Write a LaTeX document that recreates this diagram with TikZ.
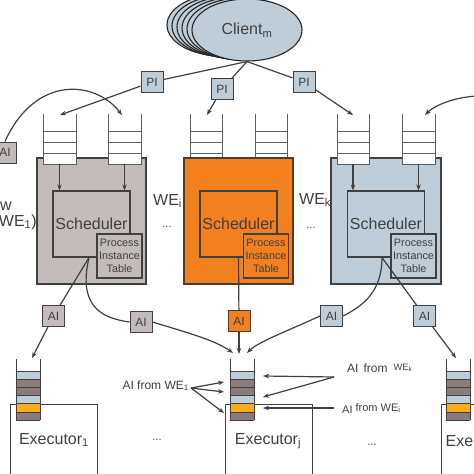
\documentclass[tikz,border=0pt]{standalone}
\usepackage{fontspec}
\setmainfont{Liberation Sans}
\usetikzlibrary{shapes.geometric}
\usetikzlibrary{arrows.meta}

\definecolor{wegray}{RGB}{196,188,186}
\definecolor{weorange}{RGB}{242,128,30}
\definecolor{weblue}{RGB}{190,205,215}
\definecolor{cellbrown}{RGB}{138,124,122}
\definecolor{cellorange}{RGB}{250,172,28}
\definecolor{dline}{RGB}{64,64,64}

\tikzset{
  wire/.style={draw=dline, line width=1.2pt},
  arr/.style={wire, -{Stealth[length=6pt,width=4.5pt]}},
  webox/.style={draw=dline, line width=1.1pt, minimum width=109pt,
    minimum height=126pt, inner sep=0pt},
  schedbox/.style={draw=dline, line width=1.1pt, minimum width=77pt,
    minimum height=66pt, inner sep=0pt, text=dline,
    font=\fontsize{16}{19}\selectfont},
  pitbox/.style={draw=dline, line width=1.1pt, minimum width=45pt,
    minimum height=44pt, inner sep=0pt, align=center, text=dline,
    font=\fontsize{10.8}{13}\selectfont},
  msgbox/.style={draw=dline, line width=1pt, minimum width=22pt,
    minimum height=21pt, inner sep=0pt, text=dline,
    font=\fontsize{12}{14}\selectfont},
  client/.style={ellipse, draw=black!85, line width=1.1pt, fill=weblue,
    minimum width=110pt, minimum height=62pt, inner sep=0pt, text=dline,
    font=\fontsize{16}{19}\selectfont},
  execbox/.style={draw=dline, line width=1pt, minimum width=87pt,
    minimum height=72pt, inner sep=0pt},
  exectext/.style={text=dline, inner sep=0pt, font=\fontsize{16}{19}\selectfont},
  lbl/.style={text=dline, inner sep=0pt, font=\fontsize{16}{19}\selectfont},
  dotlbl/.style={text=dline, inner sep=0pt, font=\fontsize{11}{13}\selectfont},
  note/.style={text=dline, inner sep=0pt, font=\fontsize{12}{14}\selectfont},
  ladder/.style={draw=dline!85, line width=1pt, fill=white},
  cellline/.style={draw=dline, line width=1pt},
}

\begin{document}
\begin{tikzpicture}[x=1pt,y=-1pt]
\useasboundingbox (0,0) rectangle (474,474);
\clip (0,0) rectangle (474,474);

% clients
\node[client] (client5) at (222,25) {};
\node[client] (client4) at (227,26) {};
\node[client] (client3) at (232,27) {};
\node[client] (client2) at (237,28) {};
\node[client] (client1) at (242,29) {};
\node[client] (client) at (247,30) {Client\textsubscript{m}};

% queues of WE_i (behind the box)
\draw[ladder] (190,114) -- (190,164) (222,114) -- (222,164)
  (190,131) -- (222,131) (190,142) -- (222,142) (190,153) -- (222,153);
\draw[ladder] (255,114) -- (255,164) (287,114) -- (287,164)
  (255,131) -- (287,131) (255,142) -- (287,142) (255,153) -- (287,153);

% workflow engines
\node[webox, fill=wegray] (we1) at (91.5,221) {};
\node[webox, fill=weorange] (wei) at (238.5,221) {};
\node[webox, fill=weblue, minimum width=110pt] (wek) at (386,221) {};

\node[schedbox] (sch1) at (91.5,224) {Scheduler};
\node[pitbox, fill=wegray] (pit1) at (119.5,256) {Process\\Instance\\Table};
\node[schedbox] (schi) at (238.5,224) {Scheduler};
\node[pitbox, fill=weorange] (piti) at (266,256) {Process\\Instance\\Table};
\node[schedbox] (schk) at (386,224) {Scheduler};
\node[pitbox, fill=weblue] (pitk) at (413.5,256) {Process\\Instance\\Table};

% queues of WE_1 and WE_k
\filldraw[ladder] (43,114) |- (76,164) -- (76,114)
  (43,131) -- (76,131) (43,142) -- (76,142) (43,153) -- (76,153);
\filldraw[ladder] (108,114) |- (141,164) -- (141,114)
  (108,131) -- (141,131) (108,142) -- (141,142) (108,153) -- (141,153);
\filldraw[ladder] (337,114) |- (369,164) -- (369,114)
  (337,131) -- (369,131) (337,142) -- (369,142) (337,153) -- (369,153);
\filldraw[ladder] (402,114) |- (435,164) -- (435,114)
  (402,131) -- (435,131) (402,142) -- (435,142) (402,153) -- (435,153);

\coordinate (qa1) at (59.5,164);
\coordinate (qb1) at (124.5,164);
\coordinate (qak) at (353,164);
\coordinate (qbk) at (418.5,164);
\draw[arr] (qa1) -- (qa1 |- sch1.north);
\draw[arr] (qb1) -- (qb1 |- sch1.north);
\draw[arr] (qak) -- (qak |- schk.north);
\draw[arr] (qbk) -- (qbk |- schk.north);

% labels beside the engines
\node[lbl, anchor=east] (wlbl) at (12,206) {w};
\node[lbl, anchor=east] (we1lbl) at (37,222) {WE\textsubscript{1})};
\node[lbl, anchor=west] (weilbl) at (153,201) {WE\textsubscript{i}};
\node[dotlbl] (dots1) at (167,227) {...};
\node[lbl, anchor=west] (weklbl) at (299,200) {WE\textsubscript{k}};
\node[dotlbl] (dots2) at (311,228) {...};

% process instances from the client
\node[msgbox, fill=weblue] (pi1) at (152,82) {PI};
\node[msgbox, fill=weblue] (pi2) at (222,89) {PI};
\node[msgbox, fill=weblue] (pi3) at (304,82) {PI};
\coordinate (qa1in) at (60,115);
\coordinate (qaiin) at (207,115);
\coordinate (qakin) at (353,115);
\draw[wire] (client.south) -- (pi1);
\draw[wire] (client.south) -- (pi2);
\draw[wire] (client.south) -- (pi3);
\draw[arr] (pi1) -- (qa1in);
\draw[arr] (pi2) -- (qaiin);
\draw[arr] (pi3) -- (qakin);

% activity instances coming from outside
\node[msgbox, fill=wegray] (aiout) at (5,152.5) {AI};
\coordinate (qb1in) at (122,115);
\coordinate (qbkin) at (425,115);
\coordinate (rstart) at (478,96);
\draw[arr] (aiout.north) .. controls (35,75) and (95,80) .. (qb1in);
\draw[arr] (rstart) .. controls (455,97) and (435,105) .. (qbkin);

% executors
\node[execbox] (ex1) at (53.5,440) {};
\node[exectext] (ex1txt) at (54,440) {Executor\textsubscript{1}};
\node[execbox] (exj) at (268.5,440) {};
\node[exectext] (exjtxt) at (268,441) {Executor\textsubscript{j}};
\node[execbox] (exk) at (484.5,440) {};
\node[exectext, anchor=east] (exktxt) at (473.5,441) {Exe};
\node[dotlbl] (dots3) at (157,440) {...};
\node[dotlbl] (dots4) at (372,445) {...};

% executor queues
\fill[weblue] (16,371) rectangle (40,379.2);
\fill[cellbrown] (16,379.2) rectangle (40,395.6);
\fill[weblue] (16,395.6) rectangle (40,403.8);
\fill[cellorange] (16,403.8) rectangle (40,412);
\fill[cellbrown] (16,412) rectangle (40,420.2);
\draw[cellline] (16,359) -- (16,420.2) (40,359) -- (40,420.2)
  (16,371) -- (40,371) (16,379.2) -- (40,379.2) (16,387.4) -- (40,387.4)
  (16,395.6) -- (40,395.6) (16,403.8) -- (40,403.8) (16,412) -- (40,412)
  (16,420.2) -- (40,420.2);

\fill[weblue] (230,371) rectangle (254,379.2);
\fill[cellbrown] (230,379.2) rectangle (254,395.6);
\fill[weblue] (230,395.6) rectangle (254,403.8);
\fill[cellorange] (230,403.8) rectangle (254,412);
\fill[cellbrown] (230,412) rectangle (254,420.2);
\draw[cellline] (230,359) -- (230,420.2) (254,359) -- (254,420.2)
  (230,371) -- (254,371) (230,379.2) -- (254,379.2) (230,387.4) -- (254,387.4)
  (230,395.6) -- (254,395.6) (230,403.8) -- (254,403.8) (230,412) -- (254,412)
  (230,420.2) -- (254,420.2);

\fill[weblue] (446,371) rectangle (470,379.2);
\fill[cellbrown] (446,379.2) rectangle (470,395.6);
\fill[weblue] (446,395.6) rectangle (470,403.8);
\fill[cellorange] (446,403.8) rectangle (470,412);
\fill[cellbrown] (446,412) rectangle (470,420.2);
\draw[cellline] (446,359) -- (446,420.2) (470,359) -- (470,420.2)
  (446,371) -- (470,371) (446,379.2) -- (470,379.2) (446,387.4) -- (470,387.4)
  (446,395.6) -- (470,395.6) (446,403.8) -- (470,403.8) (446,412) -- (470,412)
  (446,420.2) -- (470,420.2);

% activity instances to the executors
\node[msgbox, fill=wegray] (ai1) at (53.5,316) {AI};
\node[msgbox, fill=wegray] (ai2) at (141,322) {AI};
\node[msgbox, fill=weorange] (ai3) at (239,321) {AI};
\node[msgbox, fill=weblue] (ai4) at (331.5,316) {AI};
\node[msgbox, fill=weblue] (ai5) at (424.5,316) {AI};
\coordinate (lqin) at (32,358);
\coordinate (mqin1) at (233,353);
\coordinate (mqin2) at (239,354);
\coordinate (mqin3) at (247,353);
\coordinate (rqin) at (456,358);

\draw[wire] ([xshift=-2.5pt]sch1.south) -- (ai1);
\draw[wire] ([xshift=-2.5pt]sch1.south) .. controls (78,305) and (100,318) .. (ai2.west);
\draw[wire] (schi.south) -- (ai3);
\draw[wire] ([xshift=-4pt]schk.south) .. controls (382,290) and (365,305) .. (ai4.east);
\draw[wire] ([xshift=-4pt]schk.south) -- (ai5);
\draw[arr] (ai1) -- (lqin);
\draw[arr] (ai2.east) .. controls (185,332) and (215,340) .. (mqin1);
\draw[arr] (ai3) -- (mqin2);
\draw[arr] (ai4.west) .. controls (285,332) and (258,342) .. (mqin3);
\draw[arr] (ai5) -- (rqin);

% where the queued activity instances come from
\node[note, anchor=base east] (from1) at (189,389) {AI from WE\textsubscript{1}};
\coordinate (lfan) at (191,388);
\coordinate (lt1) at (224,382);
\coordinate (lt2) at (224,392);
\coordinate (lt3) at (224,413);
\draw[arr] (lfan) -- (lt1);
\draw[arr] (lfan) -- (lt2);
\draw[arr] (lfan) -- (lt3);

\node[note, anchor=base west] (fromk) at (347,372)
  {AI\hspace{5pt}from\hspace{6pt}\raisebox{2pt}{\fontsize{9.3}{11}\selectfont WE\textsubscript{k}}};
\coordinate (kfan) at (334,377);
\coordinate (kt1) at (263,376);
\coordinate (kt2) at (263,397);
\draw[arr] (kfan) -- (kt1);
\draw[arr] (kfan) -- (kt2);

\node[note, anchor=base west, font=\fontsize{11}{13}\selectfont] (fromi) at (342,411)
  {\raisebox{-2.5pt}{AI} from WE\textsubscript{i}};
\coordinate (ifan) at (334,408);
\coordinate (it1) at (263,408);
\draw[arr] (ifan) -- (it1);
\end{tikzpicture}
\end{document}
